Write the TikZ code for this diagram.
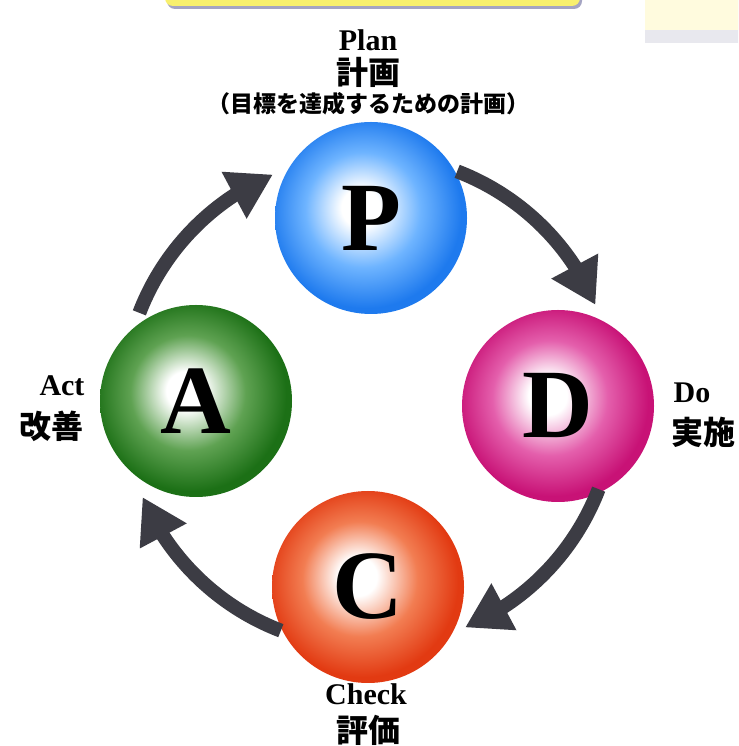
\documentclass[tikz,border=0pt]{standalone}
\usepackage{fontspec}
\setmainfont{Liberation Serif}
\newfontfamily\jpfont{Noto Sans CJK JP}
\usetikzlibrary{arrows.meta, bending, positioning}
\definecolor{arrowgray}{HTML}{3C3C44}
\definecolor{pblue}{RGB}{30,122,238}
\definecolor{pbluemid}{RGB}{110,180,255}
\definecolor{dmag}{RGB}{200,18,118}
\definecolor{dmagmid}{RGB}{228,95,172}
\definecolor{cred}{RGB}{226,58,18}
\definecolor{credmid}{RGB}{242,125,82}
\definecolor{agreen}{RGB}{28,112,22}
\definecolor{agreenmid}{RGB}{95,162,82}
\definecolor{bandyellow}{RGB}{248,240,110}
\definecolor{bandshadow}{RGB}{165,165,195}
\definecolor{paleyellow}{RGB}{255,251,222}
\definecolor{paleshadow}{RGB}{232,232,238}
% sphere shadings (circle edge at 25bp)
\pgfdeclareradialshading{sphereP}{\pgfpoint{-3bp}{3bp}}{color(0bp)=(white); color(5bp)=(white); color(15bp)=(pbluemid); color(25bp)=(pblue); color(50bp)=(pblue)}
\pgfdeclareradialshading{sphereD}{\pgfpoint{-3bp}{3bp}}{color(0bp)=(white); color(5bp)=(white); color(15bp)=(dmagmid); color(25bp)=(dmag); color(50bp)=(dmag)}
\pgfdeclareradialshading{sphereC}{\pgfpoint{-3bp}{3bp}}{color(0bp)=(white); color(5bp)=(white); color(15bp)=(credmid); color(25bp)=(cred); color(50bp)=(cred)}
\pgfdeclareradialshading{sphereA}{\pgfpoint{-3bp}{3bp}}{color(0bp)=(white); color(5bp)=(white); color(15bp)=(agreenmid); color(25bp)=(agreen); color(50bp)=(agreen)}
\tikzset{
  phase/.style={circle, minimum size=192pt, inner sep=0pt, shading=#1,
    font=\fontsize{98}{98}\selectfont\bfseries},
  cyclearrow/.style={line width=14pt, draw=arrowgray,
    -{Triangle[width=50pt, length=44pt]}},
  engl/.style={inner sep=0pt, font=\fontsize{30}{32}\selectfont\bfseries},
  jpn/.style={inner sep=0pt, font=\jpfont\bfseries\fontsize{32}{36}\selectfont},
  jpnote/.style={inner sep=0pt, font=\jpfont\bfseries\fontsize{23}{26}\selectfont}
}

\begin{document}
\begin{tikzpicture}[x=1pt, y=1pt]
    \clip (0,0) rectangle (738,746);
    \fill[white] (0,0) rectangle (738,746);

    % Bands at the top edge
    \fill[bandshadow, rounded corners=8pt] (167,737) rectangle (582,770);
    \fill[bandyellow, rounded corners=8pt] (165,740) rectangle (580,770);
    \fill[paleshadow] (645,703) rectangle (745,760);
    \fill[paleyellow] (645,716) rectangle (745,760);

    % Phases
    \node[phase=sphereP] (P) at (371,528) {P};
    \node[phase=sphereD] (D) at (558,340) {D};
    \node[phase=sphereC] (C) at (368,159) {C};
    \node[phase=sphereA] (A) at (196,345) {A};

    % Cycle arrows
    \coordinate (O) at (369,345);
    \draw[cyclearrow] ([shift={(69:246)}]O) arc[start angle=69, end angle=23, radius=246pt];
    \draw[cyclearrow] ([shift={(-21:246)}]O) arc[start angle=-21, end angle=-67, radius=246pt];
    \draw[cyclearrow] ([shift={(-111:246)}]O) arc[start angle=-111, end angle=-157, radius=246pt];
    \draw[cyclearrow] ([shift={(159:246)}]O) arc[start angle=159, end angle=113, radius=246pt];

    % Labels
    \node[engl] (planEn) at (368,706) {Plan};
    \node[jpn] (planJp) at (368,674) {計画};
    \node[jpnote] (planNote) at (368,642) {（目標を達成するための計画）};
    \node[engl] (doEn) at (692,353) {Do};
    \node[jpn] (doJp) at (703,314) {実施};
    \node[engl] (checkEn) at (366,52) {Check};
    \node[jpn] (checkJp) at (368,16) {評価};
    \node[engl] (actEn) at (62,360) {Act};
    \node[jpn] (actJp) at (51,320) {改善};
\end{tikzpicture}
\end{document}
